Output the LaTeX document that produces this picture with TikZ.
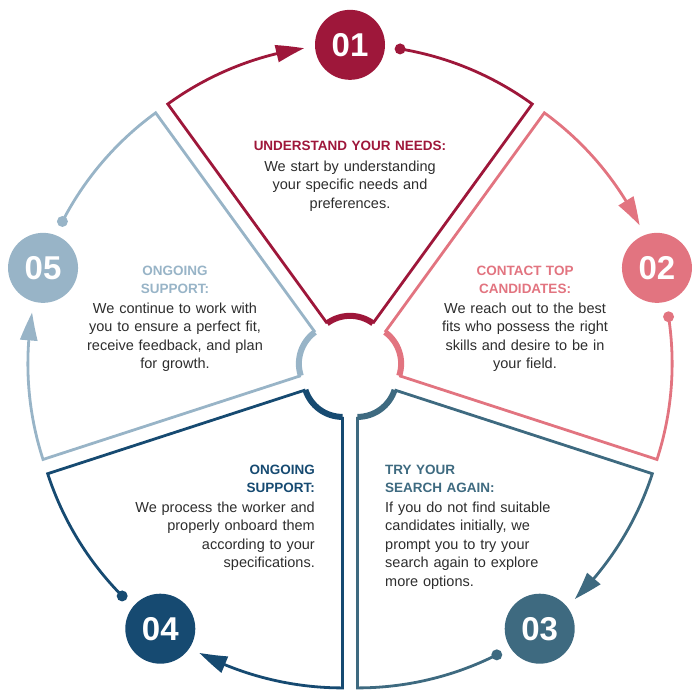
\documentclass[tikz,border=0pt]{standalone}
\usepackage{fontspec}
\setmainfont{Liberation Sans}
\usetikzlibrary{calc,arrows.meta,bending}
\definecolor{c1}{RGB}{158,23,58}
\definecolor{c2}{RGB}{226,116,128}
\definecolor{c3}{RGB}{62,106,128}
\definecolor{c4}{RGB}{22,74,113}
\definecolor{c5}{RGB}{152,180,199}
\definecolor{txt}{RGB}{45,45,45}
\newcommand\myheadfont{\bfseries\fontsize{13.5}{17.3}\selectfont}
\newcommand\mybodyfont{\fontsize{14.5}{18.5}\selectfont}
\tikzset{
  wedgeline/.style={line width=2.8pt},
  innerarc/.style={line width=6pt},
  numcirc/.style={circle, minimum size=70pt, inner sep=0pt, text=white,
    font=\bfseries\fontsize{33}{33}\selectfont},
  headtxt/.style={font=\myheadfont, inner sep=0pt, text width=220pt},
  bodytxt/.style={font=\mybodyfont, text=txt, inner sep=0pt, text width=220pt},
  tipstyle/.style={-{Triangle[length=28pt,width=17pt,bend]}}
}
\begin{document}
\begin{tikzpicture}[x=1pt,y=1pt]
\useasboundingbox (0,0) rectangle (700,700);
\coordinate (O) at (350,332.4);
\foreach \t/\c/\n in {90/c1/01, 18/c2/02, -54/c3/03, -126/c4/04, -198/c5/05} {
  \coordinate (A\n) at ($(O)+(\t:12.75)$);
  \coordinate (I1\n) at ($(A\n)+(\t+36:39)$);
  \coordinate (I2\n) at ($(A\n)+(\t-36:39)$);
  \coordinate (K1\n) at ($(A\n)+(\t+36:310)$);
  \coordinate (K2\n) at ($(A\n)+(\t-36:310)$);
  \coordinate (D\n) at ($(A\n)+(\t-9.3:310)$);
  \draw[wedgeline, \c, tipstyle] (I1\n) -- (K1\n)
     arc[start angle=\t+36, end angle=\t+8.5, radius=310];
  \draw[wedgeline, \c] (D\n) arc[start angle=\t-9.3, end angle=\t-36, radius=310] -- (I2\n);
  \fill[\c] (D\n) circle (5.5);
  \draw[innerarc, \c] (I1\n) arc[start angle=\t+36, end angle=\t-36, radius=39];
  \node[numcirc, fill=\c] (N\n) at ($(A\n)+(\t:310)$) {\n};
}
% 01
\node[headtxt, text=c1, align=center, anchor=base] (h1) at (350,549.5) {UNDERSTAND YOUR NEEDS:};
\node[bodytxt, align=center, anchor=base] (b1) at (350,528.5) {We start by understanding\\your specific needs and\\preferences.};
% 02
\node[headtxt, text=c2, align=center, anchor=base] (h2) at (525,424) {CONTACT TOP\\CANDIDATES:};
\node[bodytxt, align=center, anchor=base] (b2) at (525,386.7) {We reach out to the best\\fits who possess the right\\skills and desire to be in\\your field.};
% 05
\node[headtxt, text=c5, align=center, anchor=base] (h5) at (175,424) {ONGOING\\SUPPORT:};
\node[bodytxt, align=center, anchor=base] (b5) at (175,386.7) {We continue to work with\\you to ensure a perfect fit,\\receive feedback, and plan\\for growth.};
% 04
\node[headtxt, text=c4, align=right, anchor=base east] (h4) at (315,225) {ONGOING\\SUPPORT:};
\node[bodytxt, align=right, anchor=base east] (b4) at (315,187.7) {We process the worker and\\properly onboard them\\according to your\\specifications.};
% 03
\node[headtxt, text=c3, align=left, anchor=base west] (h3) at (385,225) {TRY YOUR\\SEARCH AGAIN:};
\node[bodytxt, align=left, anchor=base west] (b3) at (385,187.7) {If you do not find suitable\\candidates initially, we\\prompt you to try your\\search again to explore\\more options.};
\end{tikzpicture}
\end{document}
